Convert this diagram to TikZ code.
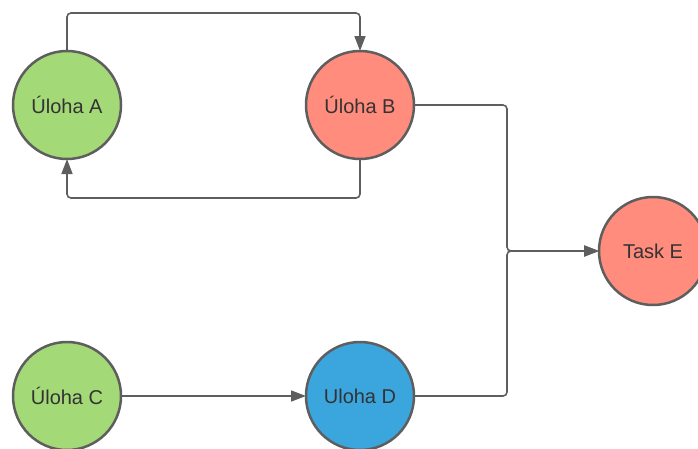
\documentclass[tikz,border=0pt]{standalone}
\usepackage{fontspec}
\setmainfont{Liberation Sans}
\usetikzlibrary{arrows.meta}
\definecolor{taskgreen}{HTML}{A3D977}
\definecolor{taskred}{HTML}{FF8C7C}
\definecolor{taskblue}{HTML}{3AA6DD}
\definecolor{edgegray}{HTML}{5E5E5E}
\definecolor{textgray}{HTML}{333333}
\begin{document}
\begin{tikzpicture}[x=1pt,y=-1pt,
  task/.style={circle, draw=edgegray, line width=2.5pt, minimum size=108pt,
    inner sep=0pt, outer sep=0pt, text=textgray,
    font=\fontsize{20}{24}\selectfont},
  flow/.style={draw=edgegray, line width=1.6pt, rounded corners=4pt,
    -{Triangle[length=15pt,width=11pt]}}]
  \useasboundingbox (0,0) rectangle (698,448);
  \node[task, fill=taskgreen] (A) at (67,105) {Úloha A};
  \node[task, fill=taskred]   (B) at (360,105) {Úloha B};
  \node[task, fill=taskgreen] (C) at (67,396) {Úloha C};
  \node[task, fill=taskblue]  (D) at (360,396) {Uloha D};
  \node[task, fill=taskred]   (E) at (653,251) {Task E};
  % loop between A and B
  \draw[flow] (A.north) -- (A.north |- 0,13) -- (B.north |- 0,13) -- (B.north);
  \draw[flow] (B.south) -- (B.south |- 0,198) -- (A.south |- 0,198) -- (A.south);
  % C to D
  \draw[flow] (C.east) -- (D.west);
  % merge into E
  \draw[flow] (B.east) -- (507,105) -- (507,251) -- (E.west);
  \draw[flow] (D.east) -- (507,396) -- (507,251) -- (E.west);
\end{tikzpicture}
\end{document}
